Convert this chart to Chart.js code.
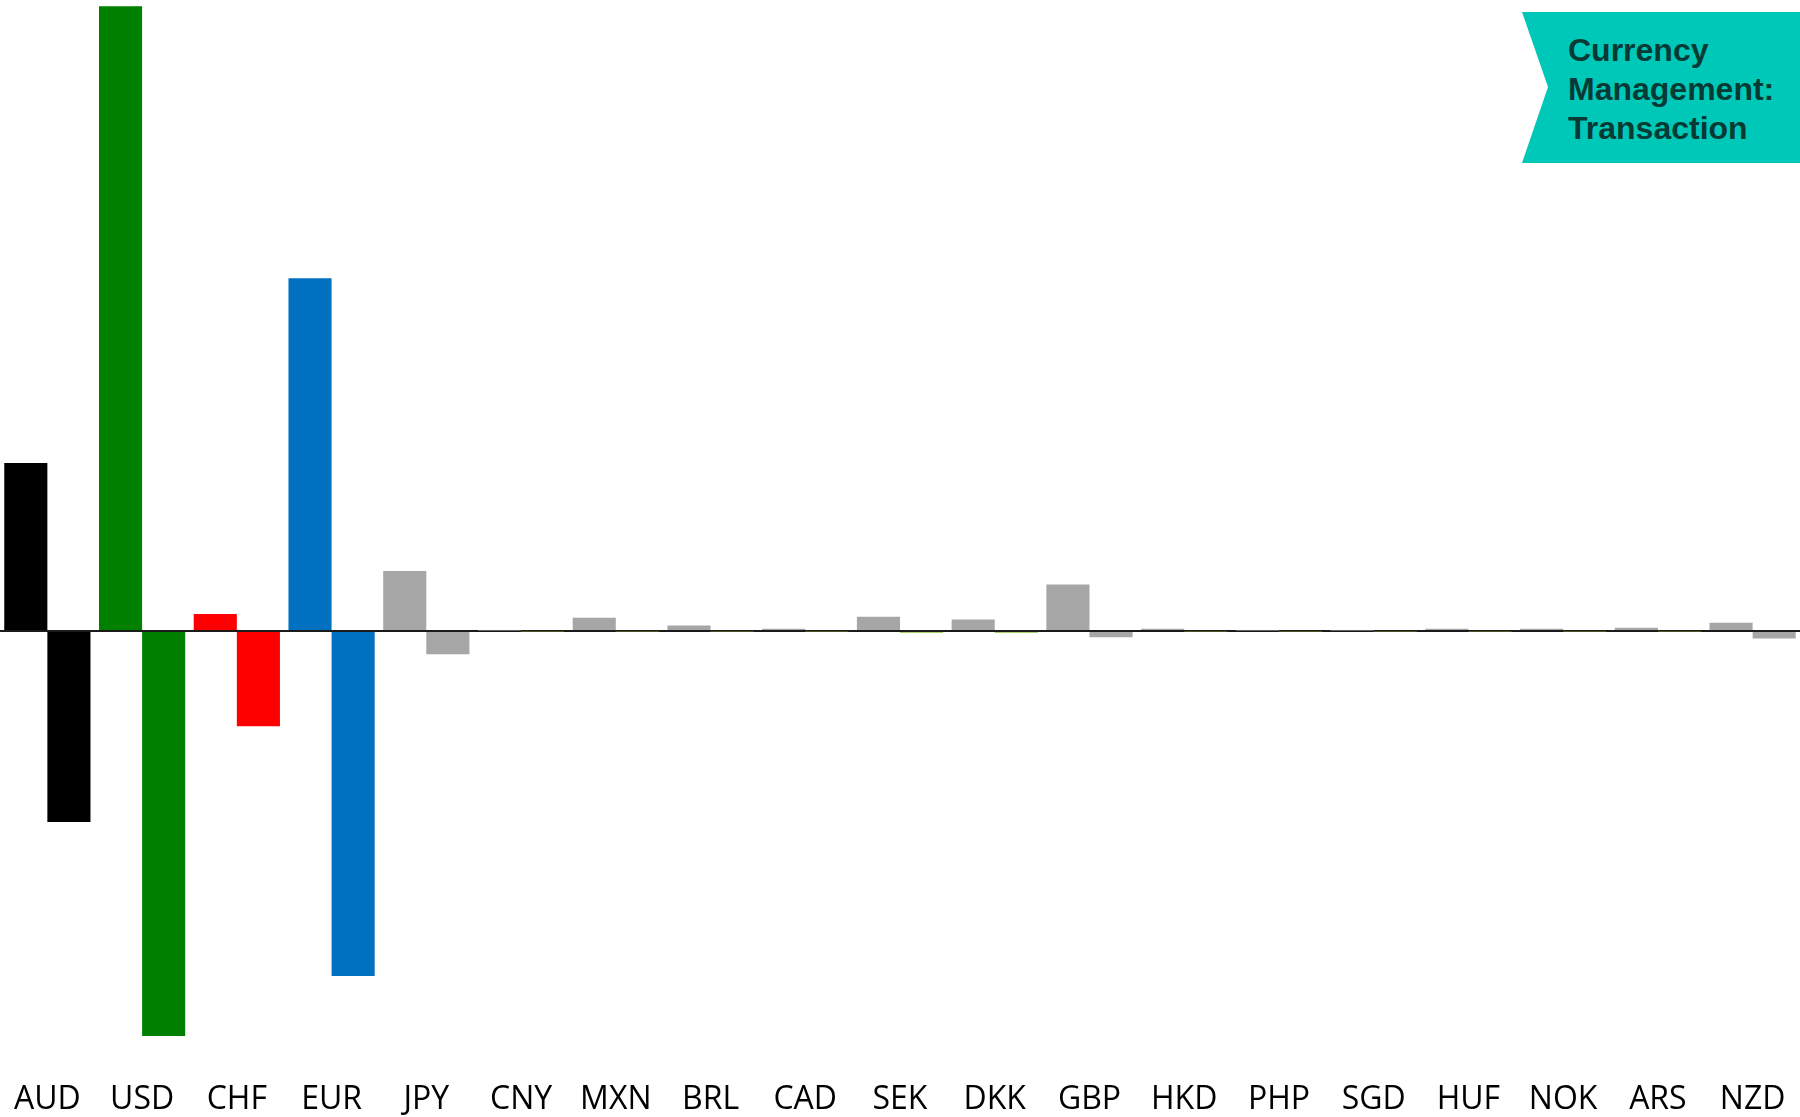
<!DOCTYPE html>
<html>
<head>
<meta charset="utf-8">
<title>Currency Management: Transaction</title>
<script src="https://cdn.jsdelivr.net/npm/chart.js@4/dist/chart.umd.min.js"></script>
<style>
  html, body { margin: 0; padding: 0; background: #ffffff; }
  #wrap { position: relative; width: 1800px; height: 1117px; overflow: hidden; }
  #chart { display: block; }
  #badge {
    position: absolute; left: 1522px; top: 12px; width: 278px; height: 151px;
    background: #00C8B8;
    clip-path: polygon(0 0, 100% 0, 100% 100%, 0 100%, 26px 75px);
  }
  #badge div {
    position: absolute; left: 46px; top: 19px;
    font: bold 32px/39px "Liberation Sans", Arial, sans-serif;
    color: #053A35; white-space: nowrap;
  }
</style>
</head>
<body>
<div id="wrap">
  <canvas id="chart" width="1800" height="1117"></canvas>
  <div id="badge"><div>Currency<br>Management:<br>Transaction</div></div>
</div>
<script>
// Currencies shown along the axis
const currencies = ['AUD', 'USD', 'CHF', 'EUR', 'JPY', 'CNY', 'MXN', 'BRL', 'CAD', 'SEK',
                    'DKK', 'GBP', 'HKD', 'PHP', 'SGD', 'HUF', 'NOK', 'ARS', 'NZD'];

// Receivable (positive) and payable (negative) transaction exposure per currency
const inflows  = [26.6, 99.0, 2.7, 55.9, 9.5, 0.05, 2.1, 0.85, 0.35, 2.25,
                  1.8, 7.35, 0.35, 0.05, 0.05, 0.35, 0.35, 0.52, 1.3];
const outflows = [-30.3, -64.2, -15.1, -54.7, -3.7, -0.05, -0.05, -0.05, -0.05, -0.3,
                  -0.3, -1.0, -0.05, -0.05, -0.05, -0.05, -0.05, -0.05, -1.2];

// Bar colours per currency
const inflowColors  = ['#000000', '#008000', '#FF0000', '#0070C0', '#A6A6A6', '#A6A6A6', '#A6A6A6',
                       '#A6A6A6', '#A6A6A6', '#A6A6A6', '#A6A6A6', '#A6A6A6', '#A6A6A6', '#A6A6A6',
                       '#A6A6A6', '#A6A6A6', '#A6A6A6', '#A6A6A6', '#A6A6A6'];
const outflowColors = ['#000000', '#008000', '#FF0000', '#0070C0', '#A6A6A6', '#5E6B2A', '#5E6B2A',
                       '#5E6B2A', '#5E6B2A', '#92BD3A', '#92BD3A', '#A6A6A6', '#5E6B2A', '#5E6B2A',
                       '#5E6B2A', '#5E6B2A', '#5E6B2A', '#5E6B2A', '#A6A6A6'];

// Value range of the vertical axis
const yMin = -70.7;
const yMax = 100;

new Chart(document.getElementById('chart'), {
  type: 'bar',
  data: {
    labels: currencies,
    datasets: [
      { label: 'Inflows', data: inflows, backgroundColor: inflowColors, borderWidth: 0 },
      { label: 'Outflows', data: outflows, backgroundColor: outflowColors, borderWidth: 0 }
    ]
  },
  options: {
    responsive: false,
    animation: false,
    devicePixelRatio: 1,
    layout: { padding: 0 },
    datasets: { bar: { categoryPercentage: 0.91, barPercentage: 1.0 } },
    plugins: { legend: { display: false }, tooltip: { enabled: false } },
    scales: {
      x: {
        grid: { display: false, drawTicks: false },
        border: { display: false },
        ticks: {
          autoSkip: false, maxRotation: 0, padding: 4, color: '#000000',
          font: { family: '"Open Sans", "Noto Sans", sans-serif', size: 32 }
        },
        afterFit: s => { s.height = 40; s.paddingLeft = 0; s.paddingRight = 0; }
      },
      y: {
        min: yMin, max: yMax,
        z: 1,
        border: { display: false },
        ticks: { display: false },
        grid: {
          drawTicks: false,
          lineWidth: 2,
          color: ctx => (ctx.tick && ctx.tick.value === 0) ? '#1a1a1a' : 'rgba(0,0,0,0)'
        },
        afterBuildTicks: s => { s.ticks = [{ value: 0 }]; },
        afterFit: s => { s.width = 0; }
      }
    }
  }
});
</script>
</body>
</html>
